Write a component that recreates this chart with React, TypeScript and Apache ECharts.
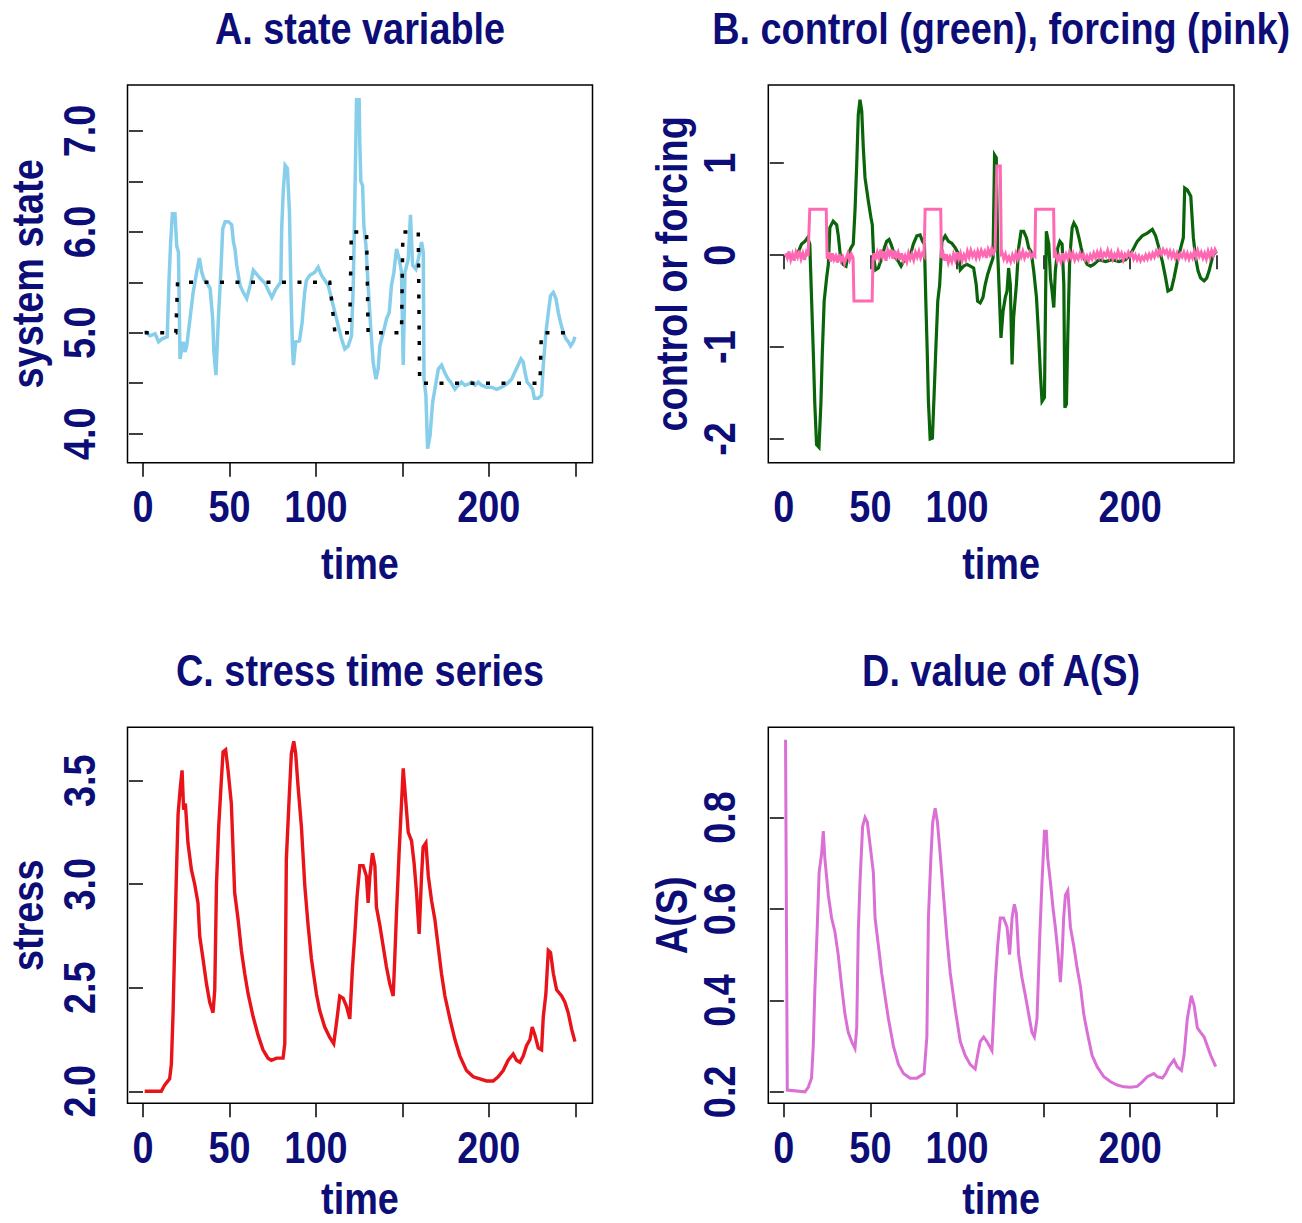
import React, { useEffect, useRef } from "react";
import * as echarts from "echarts";

// ---------- Panel A: state variable ----------
const stateTime = [1, 4, 7, 9, 11, 14, 15, 16, 17, 18.5, 19.5, 20.5, 21.4, 22.4, 23.3, 24.3, 25.3, 26.2, 27.2, 29, 31, 32.6, 34, 35.3, 36.8, 38.8, 40.3, 41, 42.2, 43.6, 45, 46.1, 47.5, 49.4, 51.3, 52.3, 53.2, 54.2, 56.1, 58, 60, 62, 63.8, 65.8, 67.7, 70.6, 72.5, 74.5, 76.4, 78.3, 79.7, 80.2, 81.2, 82.2, 83.5, 84.7, 85.5, 86.4, 87, 88.3, 90.5, 92, 93.5, 94.5, 96.5, 99.4, 101.3, 103.2, 105.2, 107.1, 109, 111, 112.9, 114.8, 116.7, 118.7, 120.6, 121.6, 122.5, 123.5, 125, 125.4, 126, 127, 127.7, 128.9, 130.2, 131.6, 133.1, 134.7, 136, 137, 138.9, 140.9, 142.4, 143.7, 145.1, 146.6, 148.2, 149.5, 150.5, 151.5, 153.4, 154.7, 155.9, 157.8, 159.2, 161.1, 162.1, 162.5, 163.6, 164.6, 166, 167.5, 168.8, 170.8, 172.7, 174.6, 176.5, 178, 180.4, 182.3, 184.2, 186.2, 188.1, 190, 192, 193.9, 195.8, 198.7, 201.6, 204.5, 207.4, 210.3, 213.2, 215.1, 217, 218.6, 219.9, 220.9, 222.2, 223.8, 225.3, 226.3, 228.6, 230.5, 231.5, 233, 234.4, 235.7, 237.3, 238.8, 240.2, 241.5, 243.1, 244.6, 246, 247.3, 248.9, 249.8];
const stateValue = [5.02, 4.97, 4.99, 4.91, 4.94, 4.96, 5.5, 5.9, 6.18, 6.18, 5.86, 5.8, 4.74, 4.84, 4.91, 4.81, 4.87, 5.0, 5.14, 5.4, 5.6, 5.74, 5.6, 5.53, 5.5, 5.44, 5.14, 4.81, 4.58, 5.14, 5.6, 6.03, 6.1, 6.1, 6.07, 5.9, 5.83, 5.67, 5.47, 5.4, 5.34, 5.47, 5.62, 5.58, 5.54, 5.49, 5.42, 5.35, 5.42, 5.47, 5.5, 6.03, 6.43, 6.66, 6.63, 6.2, 5.47, 4.87, 4.68, 4.91, 4.92, 5.1, 5.4, 5.52, 5.57, 5.6, 5.65, 5.57, 5.52, 5.47, 5.34, 5.2, 5.07, 4.94, 4.84, 4.87, 4.97, 5.47, 6.3, 7.31, 7.31, 6.86, 6.5, 6.46, 6.07, 5.87, 5.47, 5.07, 4.71, 4.54, 4.64, 4.87, 5.0, 5.14, 5.2, 5.47, 5.6, 5.83, 5.73, 5.6, 4.68, 5.6, 5.73, 6.17, 5.67, 5.63, 5.73, 5.9, 5.8, 4.54, 4.38, 3.85, 3.98, 4.31, 4.44, 4.64, 4.68, 4.6, 4.54, 4.51, 4.44, 4.48, 4.51, 4.48, 4.49, 4.51, 4.48, 4.51, 4.48, 4.46, 4.46, 4.44, 4.46, 4.49, 4.54, 4.61, 4.68, 4.74, 4.71, 4.61, 4.51, 4.48, 4.44, 4.35, 4.35, 4.38, 4.68, 5.0, 5.2, 5.37, 5.4, 5.34, 5.2, 5.1, 5.0, 4.94, 4.91, 4.87, 4.91, 4.96];
const targetTime = [1, 19, 20, 108, 111, 119.5, 120.5, 129.3, 130.2, 149.5, 150.3, 159.2, 160, 229.6, 230.4, 250];
const targetValue = [5, 5, 5.5, 5.5, 5, 5, 6, 6, 5, 5, 6, 6, 4.5, 4.5, 5, 5];

// ---------- Panel B: control (green), forcing (pink) ----------
const controlTime = [1, 3, 5.4, 8.3, 10.2, 12.2, 13.7, 15, 16, 17, 17.9, 18.9, 20.3, 21.4, 22.2, 23.3, 24.7, 25.7, 26.6, 28.5, 30.5, 31.4, 32.8, 34.3, 35.9, 37.2, 38.8, 40.1, 41.1, 42.1, 43, 44, 45, 45.9, 46.9, 48.8, 50.3, 51.1, 51.9, 53, 54.6, 56.5, 58.1, 59.4, 60.8, 61.9, 63.3, 64.6, 66.2, 67.7, 69.1, 71, 72.9, 74.8, 76.8, 78.7, 80.1, 81.2, 82, 82.8, 83.5, 84.5, 85.8, 86.8, 87.8, 88.9, 90, 91.3, 93.2, 95.1, 97, 99, 100.9, 101.9, 103.8, 105.7, 107.7, 109.6, 111.1, 111.9, 113.4, 115, 116.3, 117.7, 119.2, 120.8, 121.7, 122.7, 123.5, 124.6, 125.4, 126.6, 127.9, 128.9, 129.8, 130.8, 131.8, 132.7, 134.3, 135.6, 137, 138.5, 140.1, 141.4, 142.8, 144.3, 145.9, 147.2, 148.2, 149.1, 150.5, 151.6, 153, 154, 154.9, 155.9, 156.8, 158.2, 159.4, 160.7, 161.7, 162.3, 163.2, 164, 165.1, 166.5, 167.5, 169, 170.4, 171.7, 173.2, 175.2, 177.1, 179, 181.9, 185.8, 189.6, 193.5, 197.3, 200.2, 202.2, 204.1, 207, 209.9, 212.8, 214.7, 216.6, 218.6, 220.5, 221.8, 223.8, 225.3, 227.2, 229.2, 230.7, 231.5, 233, 235, 236.5, 237.8, 239.2, 240.7, 242.7, 244.2, 245.6, 246.9, 248.1, 249.5];
const controlValue = [0.0, -0.02, -0.03, 0.03, 0.12, 0.15, 0.19, 0.12, -0.46, -1.04, -1.62, -2.06, -2.09, -1.62, -1.08, -0.5, -0.25, -0.1, 0.3, 0.37, 0.33, 0.22, -0.03, -0.1, -0.12, 0.01, 0.08, 0.12, 0.48, 0.99, 1.53, 1.69, 1.57, 1.17, 0.84, 0.59, 0.41, 0.33, -0.03, -0.16, -0.14, -0.03, 0.08, 0.15, 0.17, 0.12, 0.04, -0.03, -0.07, -0.12, -0.07, -0.03, -0.01, 0.12, 0.21, 0.22, 0.15, 0.12, -0.5, -1.04, -1.59, -2.0, -1.99, -1.51, -1.01, -0.5, -0.32, 0.15, 0.21, 0.15, 0.13, 0.08, 0.01, -0.16, -0.12, -0.1, -0.12, -0.14, -0.32, -0.5, -0.52, -0.46, -0.32, -0.21, -0.12, -0.03, 1.09, 1.06, 0.04, -0.5, -0.9, -0.61, -0.46, -0.39, -0.14, -0.32, -1.19, -0.68, -0.32, 0.08, 0.26, 0.26, 0.19, 0.08, 0.04, -0.17, -0.46, -0.9, -1.3, -1.59, -1.55, 0.26, 0.12, -0.25, -0.39, -0.57, -0.17, 0.08, 0.15, 0.12, -0.32, -1.66, -1.62, -0.86, -0.03, 0.3, 0.35, 0.3, 0.19, 0.08, -0.03, -0.1, -0.12, -0.1, -0.05, -0.07, -0.05, -0.07, -0.05, 0.01, 0.08, 0.15, 0.21, 0.24, 0.28, 0.21, 0.08, -0.07, -0.25, -0.39, -0.37, -0.25, -0.07, 0.08, 0.19, 0.73, 0.71, 0.64, 0.19, -0.03, -0.17, -0.25, -0.28, -0.25, -0.17, -0.07, 0.01, 0.03];
const forcingTime = [1, 2, 3, 4, 5, 6, 7, 8, 9, 10, 11, 12, 13, 14, 15, 24.5, 25, 26, 27, 28, 29, 30, 31, 32, 33, 34, 35, 36, 37, 38, 39, 40, 40.5, 51, 51.5, 52, 53, 54, 55, 56, 57, 58, 59, 60, 61, 62, 63, 64, 65, 66, 67, 68, 69, 70, 71, 72, 73, 74, 75, 76, 77, 78, 79, 80, 81, 81.6, 90.6, 91, 92, 93, 94, 95, 96, 97, 98, 99, 100, 101, 102, 103, 104, 105, 106, 107, 108, 109, 110, 111, 112, 113, 114, 115, 116, 117, 118, 119, 120, 121, 122, 123, 125, 125.6, 126, 127, 128, 129, 130, 131, 132, 133, 134, 135, 136, 137, 138, 139, 140, 141, 142, 143, 144, 145, 145.4, 155.8, 156.2, 157, 158, 159, 160, 161, 162, 163, 164, 165, 166, 167, 168, 169, 170, 171, 172, 173, 174, 175, 176, 177, 178, 179, 180, 181, 182, 183, 184, 185, 186, 187, 188, 189, 190, 191, 192, 193, 194, 195, 196, 197, 198, 199, 200, 201, 202, 203, 204, 205, 206, 207, 208, 209, 210, 211, 212, 213, 214, 215, 216, 217, 218, 219, 220, 221, 222, 223, 224, 225, 226, 227, 228, 229, 230, 231, 232, 233, 234, 235, 236, 237, 238, 239, 240, 241, 242, 243, 244, 245, 246, 247, 248, 249, 250];
const forcingValue = [0.02, -0.03, 0.04, -0.05, 0.01, -0.06, 0.03, -0.02, 0.05, -0.04, 0.02, -0.05, 0.03, -0.01, 0.5, 0.5, -0.04, 0.03, -0.07, 0.02, -0.05, -0.01, -0.08, 0.01, -0.06, -0.02, -0.09, -0.03, 0.02, -0.05, 0.01, -0.03, -0.5, -0.5, -0.04, 0.02, -0.05, 0.03, -0.03, 0.06, -0.02, 0.04, -0.06, 0.05, 0.0, 0.06, -0.04, 0.05, -0.02, 0.03, -0.05, 0.02, -0.06, -0.01, -0.07, 0.02, -0.04, 0.01, -0.05, 0.03, -0.02, 0.04, -0.03, 0.02, -0.01, 0.5, 0.5, -0.03, 0.02, -0.06, 0.01, -0.08, -0.02, -0.07, 0.01, -0.05, 0.03, -0.04, 0.02, -0.06, 0.0, -0.05, 0.04, -0.02, 0.05, -0.01, 0.03, -0.03, 0.04, -0.02, 0.05, 0.0, 0.04, -0.03, 0.06, 0.01, 0.07, 0.02, 0.05, 0.97, 0.97, 0.02, 0.03, -0.04, 0.01, -0.06, -0.02, -0.07, 0.0, -0.05, 0.02, -0.04, 0.03, -0.02, 0.04, -0.03, 0.02, -0.01, 0.03, -0.02, 0.01, -0.01, 0.5, 0.5, -0.03, 0.02, -0.06, -0.01, -0.07, 0.02, -0.05, 0.01, -0.04, 0.03, -0.03, 0.02, -0.05, 0.0, -0.04, 0.02, -0.03, 0.01, -0.05, -0.01, -0.06, 0.0, -0.04, 0.02, -0.03, 0.03, -0.02, 0.04, -0.03, 0.02, -0.01, 0.05, -0.02, 0.03, -0.04, 0.01, -0.03, 0.04, -0.02, 0.02, -0.05, 0.01, -0.02, 0.03, -0.01, 0.02, -0.04, 0.0, -0.05, -0.01, -0.06, -0.02, -0.05, 0.0, -0.04, 0.01, -0.03, 0.02, -0.02, 0.04, 0.0, 0.05, 0.01, 0.06, 0.02, 0.05, -0.01, 0.04, -0.02, 0.03, -0.03, 0.02, -0.04, 0.01, -0.02, 0.03, -0.03, 0.02, -0.04, 0.01, -0.03, 0.04, -0.02, 0.05, -0.01, 0.03, -0.03, 0.02, -0.04, 0.04, -0.02, 0.05, 0.0, 0.06, 0.02];

// ---------- Panel C: stress ----------
const stressTime = [1, 10.6, 12.5, 15.4, 16.4, 17.4, 18.3, 19.3, 20.3, 21.6, 22.6, 23.5, 24.5, 26, 28, 29.9, 31.8, 32.8, 34.7, 36.7, 38.6, 40.5, 41.5, 42.5, 43.8, 45.3, 46.3, 47.8, 49.2, 51.1, 53, 55, 56.9, 58.8, 60.8, 63.7, 66.6, 69.4, 72.3, 74.3, 77.2, 81, 82, 82.9, 84.5, 85.8, 87.2, 88.3, 89.7, 91.6, 93.6, 95.5, 97.4, 100.3, 102.2, 105.1, 108, 110.3, 111.9, 113.8, 115.7, 117.7, 119.6, 121.1, 122.5, 123.8, 125.4, 127.3, 129.2, 130.2, 131.2, 132.7, 134.1, 135, 137, 138.9, 140.8, 142.7, 144.7, 145.6, 146.6, 148.1, 149.5, 150.5, 151.8, 153.4, 155.3, 156.8, 158.2, 159.7, 161.1, 162, 163.6, 165, 166.9, 168.8, 170.7, 172.6, 174.6, 177.5, 180.4, 183.3, 187.1, 191, 194.8, 198.7, 202.5, 205.4, 208.3, 211.2, 214.1, 216, 218, 219.9, 221.8, 223.8, 225.1, 226.7, 228.6, 230.5, 231.5, 233, 234.4, 235.7, 237.3, 239.2, 242.1, 244, 245.9, 247.9, 249.8];
const stressValue = [2.0, 2.0, 2.03, 2.06, 2.13, 2.38, 2.7, 3.04, 3.34, 3.47, 3.55, 3.36, 3.39, 3.2, 3.07, 3.0, 2.91, 2.75, 2.64, 2.52, 2.43, 2.38, 2.49, 3.0, 3.28, 3.5, 3.64, 3.65, 3.55, 3.39, 2.96, 2.83, 2.68, 2.57, 2.47, 2.36, 2.27, 2.2, 2.16, 2.15, 2.16, 2.16, 2.23, 3.12, 3.41, 3.63, 3.69, 3.63, 3.47, 3.28, 2.99, 2.8, 2.64, 2.47, 2.39, 2.31, 2.26, 2.23, 2.33, 2.46, 2.45, 2.41, 2.35, 2.59, 2.76, 2.94, 3.09, 3.09, 3.04, 2.91, 3.04, 3.15, 3.09, 2.89, 2.8, 2.7, 2.6, 2.52, 2.46, 2.64, 2.86, 3.15, 3.39, 3.56, 3.42, 3.25, 3.21, 3.1, 2.96, 2.76, 3.04, 3.18, 3.2, 3.04, 2.92, 2.83, 2.7, 2.57, 2.46, 2.35, 2.25, 2.17, 2.1, 2.07, 2.06, 2.05, 2.05, 2.07, 2.1, 2.15, 2.18, 2.15, 2.14, 2.17, 2.22, 2.25, 2.31, 2.27, 2.21, 2.2, 2.36, 2.47, 2.68, 2.67, 2.57, 2.49, 2.46, 2.43, 2.38, 2.3, 2.24];

// ---------- Panel D: A(S) ----------
const asTime = [1, 2, 12.2, 14.1, 16, 17, 17.9, 19.3, 20.4, 21.8, 22.8, 23.7, 25.7, 27.6, 29.5, 31.4, 33.4, 35.3, 37.2, 39.2, 41.1, 42.1, 43, 44, 45.5, 46.9, 48.2, 49.8, 51.7, 52.7, 54.6, 56.5, 58.4, 60.4, 63.3, 66.2, 69.1, 72.9, 76.8, 81, 82.6, 83.5, 84.9, 86, 87.4, 88.7, 90.3, 92.2, 94.1, 96.1, 99, 101.9, 104.7, 107.6, 110.5, 111.9, 113.4, 115.4, 117.3, 120.2, 122.1, 123.5, 125, 126.9, 128.9, 130.4, 131.8, 133.1, 134.3, 135.6, 137.5, 139.5, 141.4, 143.3, 144.7, 146.2, 147.8, 149.1, 150.5, 151.6, 152.4, 153.9, 155.5, 156.8, 158.4, 159.7, 160.7, 161.6, 162.6, 164, 165.5, 167.4, 169.4, 171.3, 173.2, 175.2, 178, 180.9, 184.8, 188.7, 192.5, 196.4, 200.2, 204.1, 207, 209.9, 213.7, 215.7, 218.6, 220.5, 222.4, 225.3, 227.2, 229.6, 231.1, 233, 235.3, 236.9, 238.8, 240.7, 242.7, 244.6, 246.5, 249.4];
const asValue = [0.97, 0.204, 0.2, 0.21, 0.23, 0.3, 0.42, 0.56, 0.68, 0.72, 0.77, 0.71, 0.63, 0.58, 0.55, 0.5, 0.43, 0.37, 0.33, 0.31, 0.295, 0.34, 0.55, 0.66, 0.78, 0.8, 0.79, 0.74, 0.68, 0.58, 0.52, 0.46, 0.41, 0.36, 0.3, 0.26, 0.24, 0.23, 0.23, 0.24, 0.32, 0.58, 0.71, 0.79, 0.82, 0.79, 0.72, 0.63, 0.54, 0.46, 0.38, 0.31, 0.28, 0.26, 0.25, 0.28, 0.31, 0.32, 0.31, 0.29, 0.44, 0.52, 0.58, 0.58, 0.56, 0.5, 0.58, 0.61, 0.59, 0.5, 0.45, 0.41, 0.37, 0.33, 0.32, 0.36, 0.54, 0.66, 0.77, 0.77, 0.71, 0.66, 0.6, 0.56, 0.5, 0.44, 0.5, 0.58, 0.63, 0.64, 0.56, 0.52, 0.47, 0.43, 0.37, 0.33, 0.28, 0.255, 0.233, 0.222, 0.215, 0.211, 0.21, 0.212, 0.222, 0.233, 0.24, 0.233, 0.23, 0.24, 0.255, 0.27, 0.255, 0.247, 0.28, 0.36, 0.41, 0.39, 0.34, 0.33, 0.32, 0.3, 0.28, 0.255];

// ---------- ticks & labels ----------
const timeTicks = [0, 50, 100, 150, 200, 250];
const timeLabels = [0, 50, 100, 200];
const stateTicks = [4, 4.5, 5, 5.5, 6, 6.5, 7];
const stateLabels = [4, 5, 6, 7];
const controlTicks = [-2, -1, 0, 1];
const stressTicks = [2, 2.5, 3, 3.5];
const asTicks = [0.2, 0.4, 0.6, 0.8];

const titles = ["A. state variable", "B. control (green), forcing (pink)", "C. stress time series", "D. value of A(S)"];
const yNames = ["system state", "control or forcing", "stress", "A(S)"];
const xName = "time";

const FONT = '"Liberation Sans", Arial, sans-serif';
const INK = "#0d0d78";
const SX = 0.86; // narrow the bold face like the reference

const zip = (t: number[], v: number[]) => t.map((x, i) => [x, v[i]]);

const grids = [
  { left: 127.5, top: 85, width: 465, height: 377.7 },
  { left: 768.3, top: 85, width: 465.7, height: 377.7 },
  { left: 127.5, top: 727.3, width: 465, height: 376 },
  { left: 768.3, top: 727.3, width: 465.7, height: 376 },
];
const yRanges = [
  [3.712, 7.456],
  [-2.258, 1.851],
  [1.942, 3.758],
  [0.175, 0.997],
];
const yTickSets = [stateTicks, controlTicks, stressTicks, asTicks];
const yLabelSets = [stateLabels, controlTicks, stressTicks, asTicks];
const yFmt = [
  (v: number) => v.toFixed(1),
  (v: number) => String(Math.round(v)),
  (v: number) => v.toFixed(1),
  (v: number) => v.toFixed(1),
];

export default function App() {
  const ref = useRef<HTMLDivElement>(null);
  useEffect(() => {
    if (!ref.current) return;
    const chart = echarts.init(ref.current, undefined, { renderer: "svg" });
    const tick = (vals: number[]) => ({ show: true, length: 14, lineStyle: { color: "#000", width: 1.5 }, customValues: vals });
    const xAxis = grids.map((_, i) => ({
      type: "value",
      gridIndex: i,
      min: -8.96,
      max: 259.96,
      axisLine: { show: false },
      splitLine: { show: false },
      axisTick: tick(timeTicks),
      axisLabel: { show: false },
    }));
    const yAxis = grids.map((_, i) => ({
      type: "value",
      gridIndex: i,
      min: yRanges[i][0],
      max: yRanges[i][1],
      axisLine: { show: false },
      splitLine: { show: false },
      axisTick: tick(yTickSets[i]),
      axisLabel: { show: false },
    }));
    const line = (name: string, i: number, data: number[][], color: string, width: number, type: any = "solid") => ({
      name,
      type: "line",
      xAxisIndex: i,
      yAxisIndex: i,
      data,
      showSymbol: false,
      symbol: "none",
      lineStyle: { color, width, type, cap: "butt", join: "miter" },
      silent: true,
    });
    chart.setOption({
      animation: false,
      backgroundColor: "#ffffff",
      grid: grids.map((g) => ({ ...g, show: true, borderColor: "#000", borderWidth: 1.5, backgroundColor: "transparent", containLabel: false })),
      xAxis,
      yAxis,
      series: [
        line("state", 0, zip(stateTime, stateValue), "#87CEEB", 3.5),
        line("target", 0, zip(targetTime, targetValue), "#000000", 3.5, [4, 11.5]),
        line("control", 1, zip(controlTime, controlValue), "#0a640a", 3.2),
        line("forcing", 1, zip(forcingTime, forcingValue), "#ff69b4", 3),
        line("stress", 2, zip(stressTime, stressValue), "#e8141a", 3.4),
        line("A(S)", 3, zip(asTime, asValue), "#da70d6", 3),
      ],
    });

    const txt = (text: string, x: number, y: number, rot = 0) => ({
      type: "text",
      x,
      y,
      rotation: rot,
      scaleX: SX,
      scaleY: 1,
      silent: true,
      style: {
        text,
        fill: INK,
        font: `bold 44px ${FONT}`,
        align: "center",
        verticalAlign: "middle",
        textAlign: "center",
        textVerticalAlign: "middle",
      },
    });
    const graphics: any[] = [];
    const titleY = [29, 29, 671, 671];
    const yNameX = [28, 672, 28, 672];
    const xNameDy = [101, 101, 96, 96];
    grids.forEach((g, i) => {
      const cx = g.left + g.width / 2;
      const cy = g.top + g.height / 2;
      const bottom = g.top + g.height;
      graphics.push(txt(titles[i], cx, titleY[i]));
      graphics.push(txt(xName, cx, bottom + xNameDy[i]));
      graphics.push(txt(yNames[i], yNameX[i], cy, Math.PI / 2));
      timeLabels.forEach((v) => {
        const px = chart.convertToPixel({ xAxisIndex: i }, v) as number;
        graphics.push(txt(String(v), px, bottom + 44.5));
      });
      yLabelSets[i].forEach((v) => {
        const py = chart.convertToPixel({ yAxisIndex: i }, v) as number;
        graphics.push(txt(yFmt[i](v), g.left - 48, py, Math.PI / 2));
      });
    });
    chart.setOption({ graphic: graphics });
    return () => chart.dispose();
  }, []);
  return (
    <div
      ref={ref}
      style={{ position: "absolute", left: 0, top: 0, width: 1302, height: 1223, background: "#fff" }}
    />
  );
}
